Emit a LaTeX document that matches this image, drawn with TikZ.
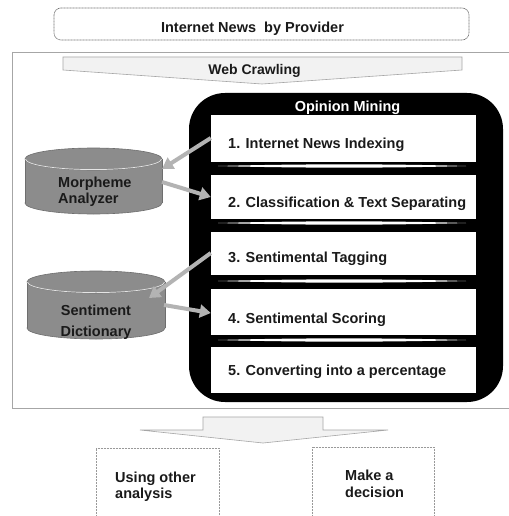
\documentclass[tikz,border=0pt]{standalone}
\usepackage{fontspec}
\setmainfont{Liberation Sans}
\usetikzlibrary{arrows.meta,calc}
\definecolor{arrgray}{HTML}{B3B3B3}
\definecolor{cylfill}{HTML}{8C8C8C}
\definecolor{cyledge}{HTML}{6E6E6E}
\definecolor{lightfill}{HTML}{F2F2F2}
\definecolor{txt}{HTML}{1A1A1A}
\tikzset{
  lbl/.style={font=\bfseries\fontsize{14.5}{16}\selectfont, text=txt, inner sep=0pt},
  wbox/.style={fill=white, draw=white, minimum width=264pt, inner sep=0pt},
  sep/.style={fill=white, draw=none},
  garrow/.style={draw=arrgray, line width=4pt, -{Triangle[length=11pt,width=13pt]}, shorten >=0pt},
  cyl/.style={fill=cylfill, draw=cyledge, line width=0.6pt},
  outbox/.style={draw=gray!80, line width=0.6pt, dash pattern=on 1pt off 0.5pt},
}
\begin{document}
\begin{tikzpicture}[x=1pt,y=-1pt]
\useasboundingbox (0,0) rectangle (508,516);
\fill[white] (0,0) rectangle (508,516);

% top box
\draw[outbox, draw=gray!90!black, rounded corners=7pt] (54,8) rectangle (469,40);
\node[lbl, anchor=base] (top) at (252.5,33) {Internet News\ \ by Provider};

% main frame
\draw[draw=gray!70, line width=0.7pt] (12,52) -- (520,52) (12,52) -- (12,408) -- (520,408);
\coordinate (frame) at (260,230);

% web crawling arrow
\draw[fill=lightfill, draw=gray!70, line width=0.6pt] (63,57) -- (462,57) -- (462,70) -- (262,84) -- (63,70) -- cycle;
\node[lbl, anchor=base, font=\bfseries\fontsize{14}{16}\selectfont] (crawl) at (254.5,75) {Web Crawling};

% opinion mining block
\fill[black, rounded corners=36pt] (189,93) rectangle (503,402);
\node[lbl, anchor=base, text=white] (om) at (347.5,112) {Opinion Mining};

\node[wbox, minimum height=46pt] (b1) at (343,138) {};
\node[wbox, minimum height=43pt] (b2) at (343,196.5) {};
\node[wbox, minimum height=42pt] (b3) at (343,253) {};
\node[wbox, minimum height=45pt] (b4) at (343,311.5) {};
\node[wbox, minimum height=45pt] (b5) at (343,369.5) {};

\foreach \yy in {166,223,281,340}{
  \fill[sep] (218,\yy) .. controls (300,\yy-2.2) and (390,\yy-2.2) .. (466,\yy)
             .. controls (390,\yy+2.2) and (300,\yy+2.2) .. (218,\yy) -- cycle;
}

\node[lbl, anchor=base west] (t1) at (228,148) {1. Internet News Indexing};
\node[lbl, anchor=base west] (t2) at (228,207) {2. Classification \& Text Separating};
\node[lbl, anchor=base west] (t3) at (228,262) {3. Sentimental Tagging};
\node[lbl, anchor=base west] (t4) at (228,323) {4. Sentimental Scoring};
\node[lbl, anchor=base west] (t5) at (228,375) {5. Converting into a percentage};

% cylinder 1
\draw[cyl] (93.5,203) ellipse[x radius=68.5, y radius=11];
\fill[cylfill] (25,159) rectangle (162,203);
\draw[cyledge, line width=0.6pt] (25,159) -- (25,203) (162,159) -- (162,203);
\draw[cyl] (93.5,159) ellipse[x radius=68.5, y radius=11];
\begin{scope}
  \clip (20,159) rectangle (170,175);
  \draw[white!80!gray, line width=0.7pt] (93.5,159) ellipse[x radius=68, y radius=10.6];
\end{scope}
\node[lbl, align=left, anchor=base west] (ma) at (58,203) {Morpheme\\Analyzer};

% cylinder 2
\draw[cyl] (96,328) ellipse[x radius=69, y radius=11];
\fill[cylfill] (27,282) rectangle (165,328);
\draw[cyledge, line width=0.6pt] (27,282) -- (27,328) (165,282) -- (165,328);
\draw[cyl] (96,282) ellipse[x radius=69, y radius=11];
\begin{scope}
  \clip (20,282) rectangle (170,298);
  \draw[white!80!gray, line width=0.7pt] (96,282) ellipse[x radius=68.5, y radius=10.6];
\end{scope}
\node[lbl, align=center, anchor=base, font=\bfseries\fontsize{14.5}{21}\selectfont] (sd) at (96,336) {Sentiment\\Dictionary};

% connectors
\coordinate (a1s) at (b1.west |- 0,138);
\coordinate (a1e) at (162,169);
\coordinate (a2s) at (162,182);
\coordinate (a2e) at (b2.west |- 0,197);
\coordinate (a3s) at (b3.west |- 0,253);
\coordinate (a3e) at (149,298);
\coordinate (a4s) at (164,305);
\coordinate (a4e) at (b4.west |- 0,313);
\draw[garrow] (a1s) -- (a1e);
\draw[garrow] (a2s) -- (a2e);
\draw[garrow] (a3s) -- (a3e);
\draw[garrow] (a4s) -- (a4e);

% bottom arrow
\draw[fill=lightfill, draw=gray!70, line width=0.6pt] (203,417) -- (323,417) -- (323,430) -- (388,430) -- (263,443) -- (140,430) -- (203,430) -- cycle;
\coordinate (down) at (263,430);

% output boxes
\draw[outbox] (96,520) -- (96,448) -- (219,448) -- (219,520);
\draw[outbox] (312,520) -- (312,447) -- (434,447) -- (434,520);
\node[lbl, align=left, anchor=base west] (o1) at (115,498) {Using other\\analysis};
\node[lbl, align=left, anchor=base west, font=\bfseries\fontsize{14.5}{17}\selectfont] (o2) at (345,497) {Make a\\decision};
\end{tikzpicture}
\end{document}
